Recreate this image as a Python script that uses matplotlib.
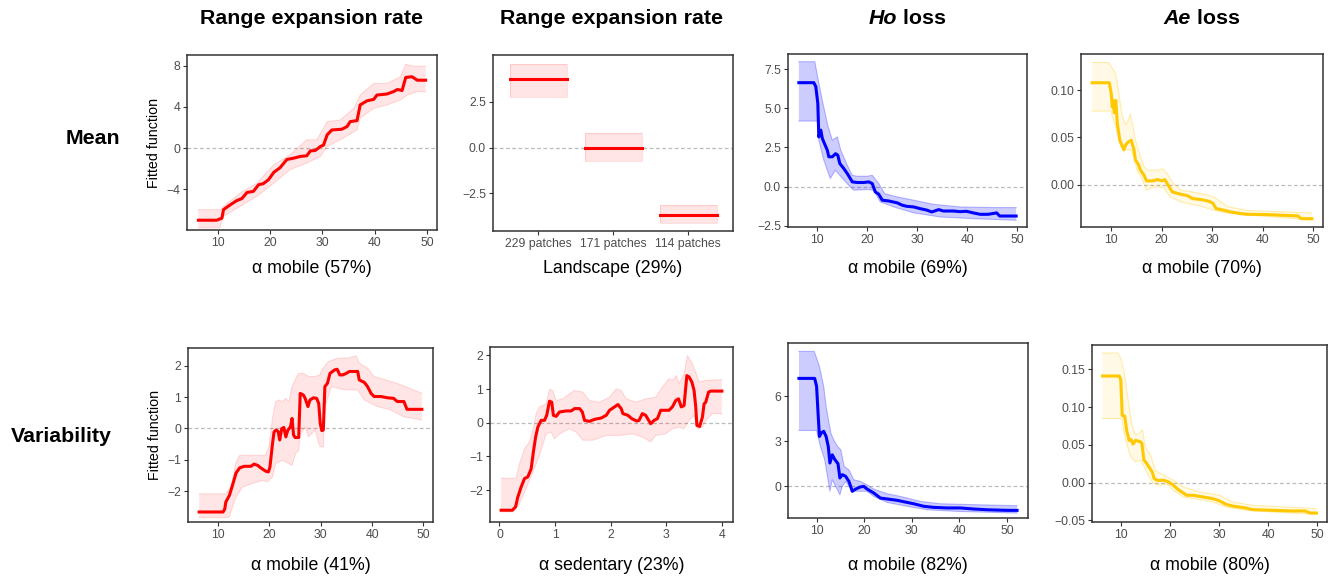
import numpy as np
import matplotlib; matplotlib.use("Agg")
import matplotlib.pyplot as plt

plt.rcParams["font.family"] = ["Liberation Sans", "DejaVu Sans"]

RED, BLUE, GOLD = "#FF0000", "#0000FF", "#FFC800"

# --- top row: mean ---
# range expansion rate vs alpha mobile
p1_x = [6.3, 9.8, 10.8, 11.1, 12.4, 13.6, 14.6, 15.6, 16.8, 17.8, 18.7, 19.7, 20.7, 21.9, 23.2, 24.5, 25.8, 27.0,
        27.7, 28.6, 29.6, 30.2, 30.9, 31.8, 33.7, 34.7, 35.3, 36.6, 37.2, 38.5, 39.8, 40.4, 42.3, 43.6, 44.3, 45.2,
        45.9, 47.1, 48.1, 49.7]
p1_y = [-7.0, -7.0, -6.8, -5.97, -5.5, -5.1, -4.9, -4.3, -4.2, -3.55, -3.45, -3.06, -2.35, -1.9, -1.1, -0.97, -0.8,
        -0.74, -0.26, -0.23, 0.16, 0.3, 1.3, 1.77, 1.84, 2.1, 2.58, 2.68, 4.2, 4.6, 4.74, 5.16, 5.26, 5.5, 5.7, 5.6,
        6.87, 6.94, 6.6, 6.6]
p1_ux = [6.3, 10.5, 11.1, 14.3, 17.5, 20.7, 23.8, 27.0, 28.9, 30.9, 33.4, 36.0, 37.2, 39.8, 42.3, 44.9, 45.9, 47.4, 49.7]
p1_uy = [-5.97, -5.97, -5.65, -4.35, -3.39, -1.61, -0.65, 0.81, 0.81, 2.58, 2.74, 3.87, 5.16, 6.29, 6.29, 6.94, 8.16,
         7.97, 7.97]
p1_lx = [6.3, 10.4, 11.1, 14.3, 17.5, 20.7, 23.8, 27.0, 29.6, 30.9, 33.4, 36.6, 37.2, 39.8, 42.3, 44.9, 46.2, 48.1, 49.7]
p1_ly = [-7.74, -7.74, -6.6, -5.65, -4.68, -3.39, -2.1, -1.45, -0.81, 0.16, 0.81, 1.77, 2.9, 3.87, 4.19, 4.68, 5.16,
         5.48, 5.48]

# range expansion rate vs landscape
p2_cats = ["229 patches", "171 patches", "114 patches"]
p2_mean = [3.76, -0.02, -3.69]
p2_lo = [2.75, -0.71, -4.13]
p2_hi = [4.56, 0.78, -3.15]

# Ho loss vs alpha mobile
p3_x = [6.3, 9.3, 9.7, 10.1, 10.3, 10.7, 11.0, 11.7, 12.0, 12.3, 13.0, 13.65, 14.1, 14.5, 15.3, 16.0, 17.0, 18.0,
        19.3, 20.3, 21.0, 21.6, 22.3, 23.0, 24.3, 26.0, 27.0, 27.9, 29.3, 30.6, 31.9, 32.9, 34.3, 35.2, 37.2, 38.6,
        39.9, 41.2, 42.6, 44.2, 45.9, 46.5, 49.8]
p3_y = [6.63, 6.63, 6.37, 5.3, 3.17, 3.6, 3.07, 2.54, 2.32, 1.9, 1.9, 2.1, 2.0, 1.47, 1.15, 0.83, 0.3, 0.26, 0.26,
        0.3, 0.19, -0.34, -0.49, -0.87, -0.92, -1.04, -1.19, -1.26, -1.3, -1.41, -1.5, -1.62, -1.47, -1.56, -1.56,
        -1.6, -1.58, -1.68, -1.77, -1.77, -1.68, -1.88, -1.88]
p3_ux = [6.3, 9.5, 10.0, 11.0, 12.1, 13.0, 14.0, 14.7, 16.0, 17.0, 18.0, 20.0, 21.0, 22.3, 23.5, 26.0, 29.3, 33.2,
         38.6, 45.4, 49.8]
p3_uy = [7.97, 7.97, 7.1, 5.5, 3.9, 2.96, 3.17, 2.32, 1.36, 0.72, 0.66, 0.66, 0.72, 0.19, -0.45, -0.66, -0.87, -1.13,
         -1.3, -1.34, -1.34]
p3_lx = [6.3, 10.0, 10.3, 11.3, 12.6, 13.6, 14.5, 16.5, 17.3, 20.0, 21.3, 22.6, 25.3, 29.3, 34.6, 41.2, 49.8]
p3_ly = [4.18, 4.18, 2.96, 1.68, 0.51, 1.04, 0.72, 0.0, -0.23, -0.19, -0.23, -0.98, -1.3, -1.68, -1.94, -2.05, -2.15]

# Ae loss vs alpha mobile
p4_x = [6.2, 9.6, 10.0, 10.2, 10.4, 10.6, 10.9, 11.2, 11.7, 12.5, 12.85, 13.3, 13.98, 14.5, 14.8, 15.3, 15.8, 16.5,
        17.0, 18.2, 19.2, 20.1, 20.6, 21.1, 22.1, 23.8, 25.1, 26.1, 27.8, 29.1, 30.1, 30.8, 31.8, 33.7, 35.7, 37.1,
        41.0, 43.7, 47.0, 47.7, 49.8]
p4_y = [0.1077, 0.1077, 0.0965, 0.082, 0.089, 0.076, 0.089, 0.065, 0.047, 0.037, 0.042, 0.045, 0.047, 0.037, 0.026,
        0.0225, 0.0155, 0.0102, 0.0042, 0.0042, 0.0056, 0.0042, 0.0056, 0.0014, -0.0074, -0.0099, -0.0113, -0.0144,
        -0.0155, -0.0169, -0.019, -0.025, -0.026, -0.0285, -0.0303, -0.031, -0.0313, -0.032, -0.0327, -0.0356, -0.0356]
p4_ux = [6.2, 9.5, 9.9, 10.9, 11.5, 12.2, 12.85, 13.3, 13.8, 14.35, 14.8, 15.8, 16.5, 17.2, 19.2, 20.2, 21.1, 22.1,
         23.8, 27.8, 30.4, 33.1, 37.1, 49.8]
p4_uy = [0.129, 0.129, 0.126, 0.117, 0.096, 0.072, 0.063, 0.067, 0.075, 0.061, 0.047, 0.030, 0.019, 0.0155, 0.0155,
         0.017, 0.012, 0.003, -0.0056, -0.009, -0.0127, -0.023, -0.027, -0.0296]
p4_lx = [6.2, 10.0, 10.2, 10.9, 11.9, 12.85, 13.8, 14.5, 15.1, 16.1, 17.0, 18.4, 20.4, 21.7, 23.8, 27.8, 30.4, 33.1,
         37.1, 42.4, 49.8]
p4_ly = [0.0778, 0.0778, 0.072, 0.061, 0.040, 0.037, 0.037, 0.030, 0.0155, 0.0067, -0.0056, -0.002, -0.0028, -0.0127,
         -0.018, -0.0225, -0.0268, -0.030, -0.032, -0.0338, -0.0373]

# --- bottom row: variability ---
# range expansion rate vs alpha mobile
p5_x = [6.3, 10.96, 11.3, 11.5, 12.2, 12.9, 13.5, 14.2, 15.1, 16.4, 17.0, 17.7, 18.3, 19.3, 19.8, 20.1, 20.6, 20.9,
        21.3, 21.7, 22.0, 22.4, 22.8, 23.2, 23.6, 24.1, 24.4, 24.7, 25.0, 25.7, 26.0, 26.6, 26.96, 27.5, 27.9, 28.6,
        29.2, 29.6, 29.9, 30.2, 30.5, 30.8, 31.3, 31.8, 32.7, 33.2, 33.7, 34.3, 34.96, 35.6, 37.2, 37.5, 38.5, 39.1,
        39.8, 40.4, 41.7, 42.96, 44.2, 44.9, 46.2, 46.8, 49.7]
p5_y = [-2.67, -2.67, -2.57, -2.35, -2.14, -1.76, -1.42, -1.26, -1.21, -1.21, -1.14, -1.18, -1.26, -1.37, -1.39,
        -1.23, -0.48, -0.11, -0.05, -0.1, -0.37, 0.0, 0.03, -0.27, -0.05, 0.05, 0.32, -0.21, -0.29, -0.29, 1.12,
        1.07, 0.96, 0.70, 0.91, 0.98, 0.96, 0.80, 0.16, -0.07, -0.05, 1.34, 1.44, 1.76, 1.87, 1.89, 1.71, 1.71, 1.76,
        1.82, 1.82, 1.55, 1.47, 1.34, 1.12, 1.02, 1.02, 0.98, 0.96, 0.86, 0.86, 0.61, 0.61]
p5_ux = [6.3, 11.5, 12.6, 13.5, 14.2, 19.2, 19.9, 20.6, 21.2, 21.9, 22.5, 23.2, 23.8, 24.4, 25.3, 25.7, 26.6, 27.6,
         28.9, 29.8, 30.2, 31.5, 33.4, 35.3, 36.9, 37.5, 39.1, 40.4, 42.3, 44.9, 47.4, 49.7]
p5_uy = [-2.09, -2.09, -1.82, -1.07, -0.86, -0.86, -0.59, 0.32, 0.86, 0.91, 0.86, 0.96, 0.86, 1.34, 1.66, 1.76, 1.76,
         1.66, 1.66, 1.71, 1.87, 2.14, 2.25, 2.25, 2.32, 2.09, 1.93, 1.66, 1.57, 1.44, 1.28, 1.12]
p5_lx = [6.3, 11.5, 12.2, 12.9, 13.5, 14.8, 16.7, 18.6, 19.6, 20.6, 21.2, 22.5, 24.4, 25.1, 25.7, 26.0, 26.96, 27.6,
         28.9, 29.6, 29.9, 30.5, 30.8, 32.1, 34.6, 37.2, 38.5, 41.0, 43.6, 46.2, 49.7]
p5_ly = [-2.85, -2.85, -2.83, -2.46, -2.19, -1.87, -1.76, -1.66, -1.71, -1.55, -1.12, -1.02, -1.18, -0.80, -0.70,
         -0.21, 0.05, -0.27, -0.05, -0.48, -0.59, -0.59, 0.70, 1.34, 1.23, 1.23, 0.91, 0.70, 0.59, 0.37, 0.27]

# range expansion rate vs alpha sedentary
p6_x = [0.03, 0.23, 0.29, 0.33, 0.39, 0.45, 0.51, 0.57, 0.61, 0.65, 0.69, 0.75, 0.81, 0.85, 0.90, 0.94, 0.97, 1.02,
        1.08, 1.20, 1.29, 1.35, 1.44, 1.49, 1.53, 1.62, 1.71, 1.83, 1.92, 1.98, 2.07, 2.13, 2.19, 2.22, 2.31, 2.38,
        2.47, 2.51, 2.57, 2.63, 2.72, 2.78, 2.84, 2.90, 3.05, 3.11, 3.17, 3.22, 3.27, 3.32, 3.37, 3.41, 3.46, 3.50,
        3.53, 3.55, 3.60, 3.65, 3.68, 3.71, 3.76, 3.80, 4.0]
p6_y = [-2.6, -2.6, -2.50, -2.21, -1.91, -1.66, -1.61, -1.37, -0.87, -0.43, -0.13, 0.07, 0.07, 0.22, 0.64, 0.61,
        0.22, 0.19, 0.32, 0.35, 0.35, 0.42, 0.42, 0.32, 0.07, 0.04, 0.10, 0.14, 0.22, 0.37, 0.47, 0.54, 0.42, 0.27,
        0.22, 0.12, 0.05, 0.07, 0.27, 0.22, -0.03, 0.07, 0.12, 0.37, 0.37, 0.47, 0.66, 0.71, 0.47, 0.51, 1.40, 1.36,
        1.21, 0.96, 0.47, -0.08, -0.11, 0.17, 0.56, 0.61, 0.91, 0.94, 0.94]
p6_ux = [0.03, 0.30, 0.36, 0.45, 0.54, 0.60, 0.66, 0.72, 0.84, 0.90, 0.96, 1.02, 1.14, 1.26, 1.35, 1.50, 1.62, 1.80,
         1.98, 2.10, 2.19, 2.28, 2.46, 2.63, 2.81, 2.93, 3.05, 3.11, 3.18, 3.23, 3.32, 3.38, 3.47, 3.53, 3.59, 3.71,
         4.0]
p6_uy = [-1.65, -1.65, -1.22, -0.77, -0.57, -0.23, 0.27, 0.47, 0.56, 0.99, 0.96, 0.66, 0.71, 0.86, 0.96, 0.91, 0.66,
         0.61, 0.76, 1.01, 0.96, 0.71, 0.61, 0.71, 0.76, 1.06, 1.31, 1.26, 1.40, 1.16, 1.46, 2.0, 1.75, 1.50, 1.21,
         1.26, 1.28]
p6_lx = [0.03, 0.25, 0.36, 0.48, 0.54, 0.66, 0.75, 0.84, 0.93, 0.99, 1.08, 1.26, 1.38, 1.50, 1.68, 1.92, 2.16, 2.40,
         2.57, 2.72, 2.81, 2.99, 3.11, 3.23, 3.32, 3.41, 3.50, 3.56, 3.65, 3.71, 3.83, 4.0]
p6_ly = [-2.65, -2.65, -2.41, -1.96, -1.71, -1.22, -0.82, -0.33, -0.28, -0.48, -0.33, -0.18, -0.28, -0.52, -0.52,
         -0.38, -0.38, -0.33, -0.43, -0.57, -0.38, -0.33, -0.18, -0.13, -0.18, 0.07, 0.22, -0.18, -0.13, 0.07, 0.27,
         0.27]

# Ho loss vs alpha mobile
p7_x = [6.3, 9.6, 10.0, 10.35, 10.6, 11.0, 11.5, 12.0, 12.45, 12.8, 13.3, 13.85, 14.5, 14.9, 15.4, 16.1, 16.8, 17.5,
        18.2, 19.2, 19.9, 20.6, 22.0, 23.4, 24.8, 26.9, 29.0, 30.4, 32.5, 34.6, 37.4, 40.2, 43.0, 45.8, 50.0, 52.1]
p7_y = [7.2, 7.2, 6.67, 4.67, 3.33, 3.56, 3.67, 3.33, 2.67, 1.56, 2.1, 1.78, 1.51, 0.56, 0.78, 0.67, 0.33, -0.33,
        -0.18, -0.04, 0.0, -0.18, -0.44, -0.78, -0.84, -0.93, -1.07, -1.16, -1.33, -1.4, -1.44, -1.44, -1.51, -1.56,
        -1.6, -1.6]
p7_ux = [6.3, 9.5, 10.0, 10.6, 11.5, 12.0, 12.5, 13.0, 13.6, 14.4, 15.1, 15.8, 16.8, 17.8, 19.2, 20.6, 22.0, 24.8,
         27.6, 31.8, 36.0, 43.0, 52.1]
p7_uy = [9.0, 9.0, 8.56, 8.0, 6.67, 5.33, 4.44, 3.56, 3.1, 2.67, 2.44, 1.33, 1.1, 0.44, 0.33, 0.1, -0.18, -0.49,
         -0.67, -1.0, -1.16, -1.22, -1.29]
p7_lx = [6.3, 10.0, 10.8, 11.7, 12.4, 12.8, 13.3, 14.0, 14.9, 15.4, 16.1, 17.1, 18.2, 20.6, 22.0, 24.8, 29.0, 33.2,
         39.5, 52.1]
p7_ly = [3.73, 3.73, 2.67, 1.78, 0.44, -0.33, 0.44, 0.0, -0.56, 0.0, 0.33, -0.11, -0.33, -0.33, -0.67, -1.07,
         -1.33, -1.56, -1.67, -1.78]

# Ae loss vs alpha mobile
p8_x = [6.3, 9.7, 10.0, 10.3, 10.8, 11.2, 11.7, 12.1, 12.5, 13.0, 13.5, 14.0, 14.3, 14.7, 15.2, 15.7, 16.4, 16.8,
        17.4, 18.8, 19.7, 20.7, 21.7, 22.7, 23.4, 24.7, 26.7, 28.7, 30.1, 31.4, 32.7, 35.4, 36.8, 40.8, 44.8, 47.5,
        48.5, 49.8]
p8_y = [0.1412, 0.1412, 0.136, 0.089, 0.088, 0.069, 0.056, 0.057, 0.051, 0.056, 0.055, 0.054, 0.052, 0.030, 0.026,
        0.021, 0.014, 0.0053, 0.003, 0.003, 0.0009, -0.0035, -0.0093, -0.0137, -0.0168, -0.0168, -0.019, -0.0212,
        -0.0243, -0.0288, -0.031, -0.0336, -0.0358, -0.0367, -0.0376, -0.0376, -0.0403, -0.0403]
p8_ux = [6.3, 9.4, 10.0, 10.7, 11.2, 11.7, 12.4, 13.0, 13.7, 14.4, 15.0, 16.1, 17.1, 18.8, 20.7, 22.7, 26.1, 30.1,
         32.7, 36.8, 49.8]
p8_uy = [0.1717, 0.1717, 0.165, 0.147, 0.1226, 0.1, 0.073, 0.063, 0.065, 0.070, 0.047, 0.036, 0.0155, 0.0097, 0.003,
         -0.0058, -0.0124, -0.0168, -0.0257, -0.03, -0.0345]
p8_lx = [6.3, 10.2, 10.7, 11.4, 12.0, 13.0, 14.0, 14.7, 15.4, 16.4, 17.4, 19.4, 20.7, 22.7, 26.1, 28.7, 31.4, 35.4,
         40.8, 49.8]
p8_ly = [0.085, 0.085, 0.065, 0.047, 0.034, 0.0274, 0.0296, 0.0217, 0.012, 0.0009, -0.0035, -0.0022, -0.0102, -0.019,
         -0.0226, -0.0257, -0.0323, -0.0367, -0.039, -0.042]

col_titles = ["Range expansion rate", "Range expansion rate", ("Ho", " loss"), ("Ae", " loss")]
row_titles = ["Mean", "Variability"]
xlabels = ["α mobile (57%)", "Landscape (29%)", "α mobile (69%)", "α mobile (70%)",
           "α mobile (41%)", "α sedentary (23%)", "α mobile (82%)", "α mobile (80%)"]

fig = plt.figure(figsize=(13.31, 5.77), dpi=100)
W, H = 1331, 577


def add_ax(l, t, r, b):
    return fig.add_axes([l / W, 1 - b / H, (r - l) / W, (b - t) / H])


def style(ax, xlim, ylim, xt, yt):
    ax.set_xlim(xlim); ax.set_ylim(ylim)
    ax.set_xticks(xt); ax.set_yticks(yt)
    ax.axhline(0, color="#BBBBBB", ls=(0, (3, 2)), lw=0.9, zorder=1)
    for s in ax.spines.values():
        s.set_color("#333333"); s.set_linewidth(1.1)
    ax.tick_params(length=3, width=0.8, color="#333333", labelcolor="#4D4D4D", labelsize=8.8, pad=2)


def curve(ax, x, y, ux, uy, lx, ly, col, falpha, ealpha):
    ax.fill(np.concatenate([ux, lx[::-1]]), np.concatenate([uy, ly[::-1]]), color=col, alpha=falpha, lw=0, zorder=2)
    ax.plot(ux, uy, color=col, alpha=ealpha, lw=0.8, zorder=2)
    ax.plot(lx, ly, color=col, alpha=ealpha, lw=0.8, zorder=2)
    ax.plot(x, y, color=col, lw=2.2, zorder=3)


xt_mob = [10, 20, 30, 40, 50]

ax1 = add_ax(187, 55, 437, 230)
curve(ax1, p1_x, p1_y, np.array(p1_ux), np.array(p1_uy), np.array(p1_lx), np.array(p1_ly), RED, 0.1, 0.12)
style(ax1, (4.13, 51.87), (-7.95, 9.05), xt_mob, [-4, 0, 4, 8])

ax2 = add_ax(493, 55, 733, 231)
pos = np.arange(1, len(p2_cats) + 1)
for p, m, lo, hi in zip(pos, p2_mean, p2_lo, p2_hi):
    ax2.fill_between([p - 0.38, p + 0.38], lo, hi, color=RED, alpha=0.1, lw=0, zorder=2)
    ax2.plot([p - 0.38, p + 0.38, p + 0.38, p - 0.38, p - 0.38], [lo, lo, hi, hi, lo], color=RED, alpha=0.12, lw=0.8)
    ax2.plot([p - 0.38, p + 0.38], [m, m], color=RED, lw=2.2, zorder=3)
style(ax2, (0.4, 3.6), (-4.55, 5.05), pos, [-2.5, 0, 2.5])
ax2.set_xticklabels(p2_cats)

ax3 = add_ax(788, 54, 1027, 227)
curve(ax3, p3_x, p3_y, np.array(p3_ux), np.array(p3_uy), np.array(p3_lx), np.array(p3_ly), BLUE, 0.2, 0.25)
style(ax3, (4.13, 51.97), (-2.58, 8.46), xt_mob, [-2.5, 0, 2.5, 5, 7.5])

ax4 = add_ax(1081, 54, 1323, 227)
curve(ax4, p4_x, p4_y, np.array(p4_ux), np.array(p4_uy), np.array(p4_lx), np.array(p4_ly), GOLD, 0.1, 0.3)
style(ax4, (4.0, 52.0), (-0.0444, 0.138), xt_mob, [0, 0.05, 0.10])

ax5 = add_ax(188, 348, 433, 522)
curve(ax5, p5_x, p5_y, np.array(p5_ux), np.array(p5_uy), np.array(p5_lx), np.array(p5_ly), RED, 0.1, 0.12)
style(ax5, (4.13, 51.87), (-2.99, 2.57), xt_mob, [-2, -1, 0, 1, 2])

ax6 = add_ax(490, 347, 733, 522)
curve(ax6, p6_x, p6_y, np.array(p6_ux), np.array(p6_uy), np.array(p6_lx), np.array(p6_ly), RED, 0.1, 0.12)
style(ax6, (-0.17, 4.2), (-2.95, 2.25), [0, 1, 2, 3, 4], [-2, -1, 0, 1, 2])

ax7 = add_ax(788, 343, 1028, 518)
curve(ax7, p7_x, p7_y, np.array(p7_ux), np.array(p7_uy), np.array(p7_lx), np.array(p7_ly), BLUE, 0.2, 0.25)
style(ax7, (4.0, 54.4), (-2.11, 9.56), xt_mob, [0, 3, 6])

ax8 = add_ax(1092, 345, 1327, 522)
curve(ax8, p8_x, p8_y, np.array(p8_ux), np.array(p8_uy), np.array(p8_lx), np.array(p8_ly), GOLD, 0.1, 0.3)
style(ax8, (4.15, 51.95), (-0.0522, 0.1823), xt_mob, [-0.05, 0, 0.05, 0.10, 0.15])

axes = [ax1, ax2, ax3, ax4, ax5, ax6, ax7, ax8]
for ax in (ax1, ax5):
    ax.set_ylabel("Fitted function", fontsize=10.3, labelpad=4)

# x labels below each panel
for i, ax in enumerate(axes):
    bb = ax.get_position()
    y = (268 if i < 4 else 565)
    fig.text(bb.x0 + bb.width / 2, 1 - y / H, xlabels[i], ha="center", va="center", fontsize=12.8)

# column titles (two with italic species names)
r = fig.canvas.get_renderer()
tx = [312, 612, 907, 1202]
for xc, t in zip(tx, col_titles):
    if isinstance(t, str):
        fig.text(xc / W, 1 - 18 / H, t, ha="center", va="center", fontsize=15.4, weight="bold")
    else:
        a = fig.text(0, 1 - 18 / H, t[0], ha="left", va="center", fontsize=15.4, weight="bold", style="italic")
        b = fig.text(0, 1 - 18 / H, t[1], ha="left", va="center", fontsize=15.4, weight="bold")
        w1 = a.get_window_extent(r).width / W
        w2 = b.get_window_extent(r).width / W
        a.set_x(xc / W - (w1 + w2) / 2); b.set_x(xc / W - (w1 + w2) / 2 + w1)

fig.text(93 / W, 1 - 139 / H, row_titles[0], ha="center", va="center", fontsize=15.4, weight="bold")
fig.text(61 / W, 1 - 437 / H, row_titles[1], ha="center", va="center", fontsize=15.4, weight="bold")

fig.savefig("out.png", dpi=100)
